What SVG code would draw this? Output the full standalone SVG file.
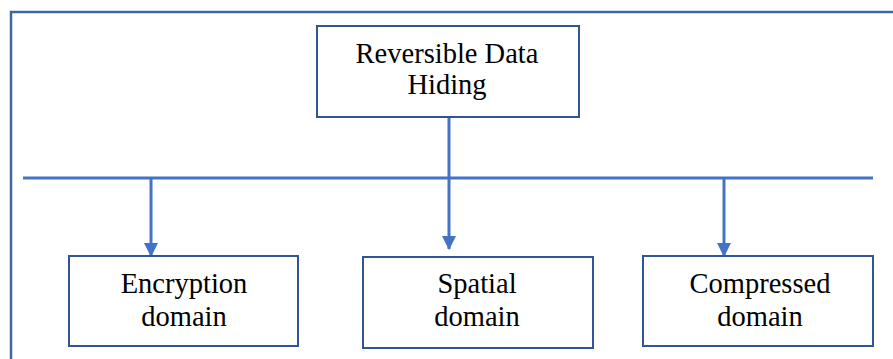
<svg xmlns="http://www.w3.org/2000/svg" width="893" height="359" viewBox="0 0 893 359">
<style>
.box{fill:#fff;stroke:#2f5597;stroke-width:2}
.lbl{font-family:"Liberation Serif","Times New Roman",serif;font-size:28.5px;fill:#000;text-anchor:middle}
.con{stroke:#4472c4;stroke-width:3;fill:none}
</style>
<defs>
<marker id="arr" markerUnits="userSpaceOnUse" markerWidth="14" markerHeight="14" refX="13" refY="7" orient="auto">
<path d="M0,0 L14,7 L0,14 Z" fill="#4472c4"/>
</marker>
</defs>
<rect width="893" height="359" fill="#fff"/>
<g id="frame"><rect x="11" y="12" width="900" height="360" fill="none" stroke="#41659f" stroke-width="2.5"/></g>
<g id="connectors">
<line class="con" x1="449" y1="117" x2="449" y2="178"/>
<line class="con" x1="23" y1="178" x2="873" y2="178"/>
<line class="con" x1="151" y1="178" x2="151" y2="256" marker-end="url(#arr)"/>
<line class="con" x1="449" y1="178" x2="449" y2="249" marker-end="url(#arr)"/>
<line class="con" x1="724" y1="178" x2="724" y2="256" marker-end="url(#arr)"/>
</g>
<g id="root"><rect class="box" x="317" y="26" width="262" height="91"/>
<text class="lbl" x="447" y="63">Reversible Data</text><text class="lbl" x="447" y="94">Hiding</text></g>
<g id="encryption"><rect class="box" x="69" y="256" width="229" height="90"/>
<text class="lbl" x="184" y="293">Encryption</text><text class="lbl" x="184" y="326">domain</text></g>
<g id="spatial"><rect class="box" x="363" y="257" width="230" height="91"/>
<text class="lbl" x="477" y="293">Spatial</text><text class="lbl" x="477" y="326">domain</text></g>
<g id="compressed"><rect class="box" x="643" y="256" width="230" height="90"/>
<text class="lbl" x="760" y="293">Compressed</text><text class="lbl" x="760" y="326">domain</text></g>
</svg>
